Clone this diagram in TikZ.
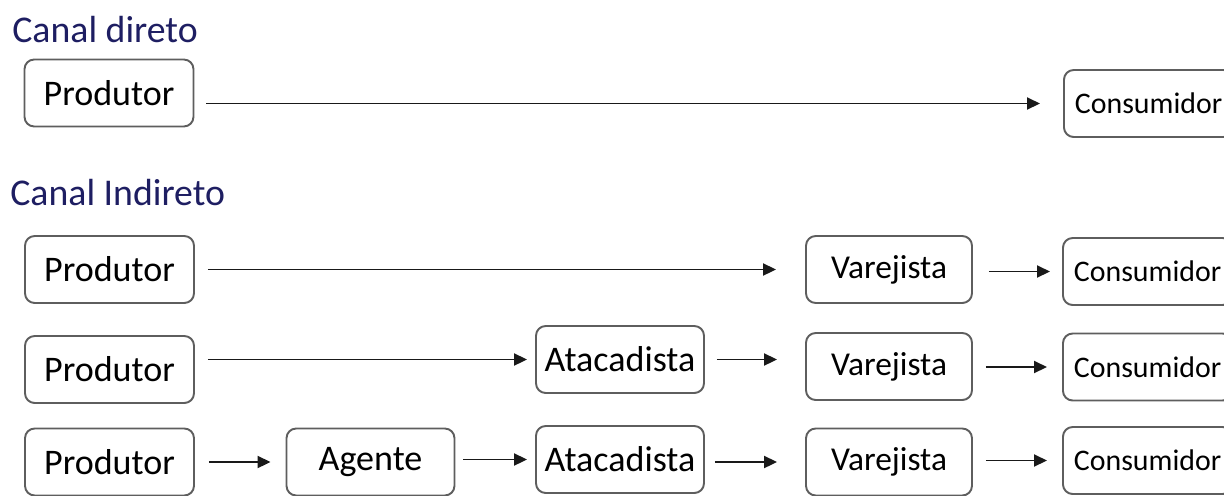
\documentclass[tikz,border=0pt]{standalone}
\usepackage{fontspec}
\setmainfont{Carlito}
\usetikzlibrary{arrows.meta,positioning}
\definecolor{titleblue}{HTML}{1E1E62}
\definecolor{boxgray}{HTML}{5E5E5E}

\begin{document}
\begin{tikzpicture}[x=0.02cm,y=-0.02cm,
  every node/.style={font=\fontsize{20.5}{24}\selectfont},
  title/.style={anchor=west,inner sep=0pt,text=titleblue,font=\fontsize{21.5}{26}\selectfont},
  box/.style={draw=boxgray,line width=1.1pt,rounded corners=5.5pt,minimum height=1.34cm,inner sep=0pt},
  prodbox/.style={box,minimum width=3.38cm},
  midbox/.style={box,minimum width=3.36cm},
  varbox/.style={box,minimum width=3.32cm,font=\fontsize{19}{23}\selectfont},
  consbox/.style={box,anchor=west,inner xsep=0.22cm,font=\fontsize{17}{20}\selectfont},
  link/.style={draw=black!90,line width=1.1pt,-{Triangle[length=2.6mm,width=2.4mm]}}]
\useasboundingbox (0,0) rectangle (1224,495);
\clip (0,0) rectangle (1224,495);
% canal direto
\node[title] (tdir) at (12,30) {Canal direto};
\node[prodbox] (prodA) at (109,93) {Produtor};
\node[consbox] (consA) at (1063,103.5) {Consumidor};
\draw[link,shorten <=0.24cm,shorten >=0.46cm] (prodA.east |- consA.west) -- (consA.west);
% canal indireto
\node[title] (tind) at (10,193) {Canal Indireto};
\node[prodbox] (prodB) at (109.5,269.5) {Produtor};
\node[varbox] (varB) at (889,269.5) {Varejista};
\node[consbox] (consB) at (1062,271.5) {Consumidor};
\draw[link,shorten <=0.26cm,shorten >=0.58cm] (prodB.east |- varB.west) -- (varB.west);
\draw[link,shorten <=0.32cm,shorten >=0.24cm] (varB.east |- consB.west) -- (consB.west);

\node[prodbox] (prodC) at (109.5,369.5) {Produtor};
\node[midbox] (ataC) at (620,359.5) {Atacadista};
\node[varbox] (varC) at (889,366.5) {Varejista};
\node[consbox] (consC) at (1062,367) {Consumidor};
\draw[link,shorten <=0.26cm,shorten >=0.16cm] (prodC.east |- ataC.west) -- (ataC.west);
\draw[link,shorten <=0.24cm,shorten >=0.56cm] (ataC.east) -- (ataC.east -| varC.west);
\draw[link,shorten <=0.26cm,shorten >=0.3cm] (varC.east |- consC.west) -- (consC.west);

\node[prodbox] (prodD) at (109.5,462) {Produtor};
\node[midbox] (ageD) at (370.5,462) {Agente};
\node[midbox] (ataD) at (620,459.5) {Atacadista};
\node[varbox] (varD) at (889,462) {Varejista};
\node[consbox] (consD) at (1062,460.5) {Consumidor};
\draw[link,shorten <=0.28cm,shorten >=0.3cm] (prodD.east |- ageD.west) -- (ageD.west);
\draw[link,shorten <=0.16cm,shorten >=0.16cm] (ageD.east |- ataD.west) -- (ataD.west);
\draw[link,shorten <=0.2cm,shorten >=0.56cm] (ataD.east |- varD.west) -- (varD.west);
\draw[link,shorten <=0.26cm,shorten >=0.3cm] (varD.east |- consD.west) -- (consD.west);
\end{tikzpicture}
\end{document}
